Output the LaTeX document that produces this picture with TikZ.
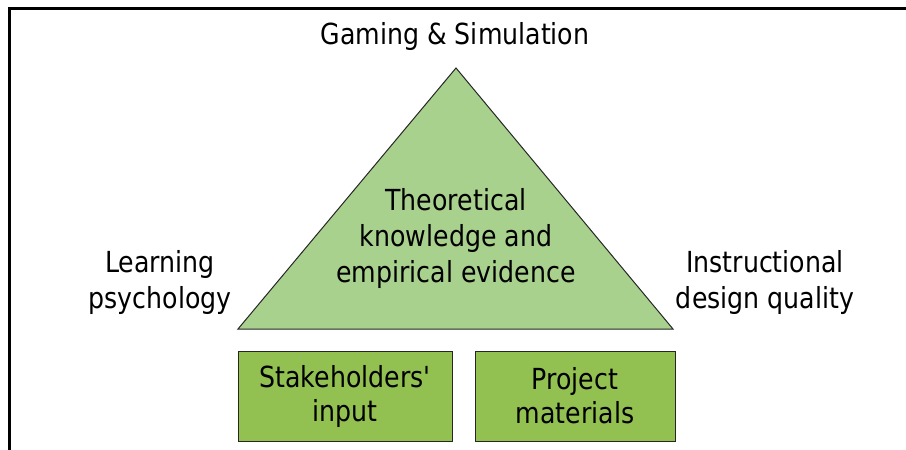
\documentclass[tikz,border=0pt]{standalone}
\usepackage{fontspec}
\setmainfont{DejaVu Sans}[FakeStretch=0.87,Ligatures=TeXOff]
\definecolor{trifill}{HTML}{A9D18E}
\definecolor{boxfill}{HTML}{92C152}
\definecolor{edge}{HTML}{262626}
\begin{document}
\begin{tikzpicture}[x=1pt,y=-1pt,
  lbl/.style={align=center,font=\fontsize{29}{36}\selectfont,inner sep=0pt},
  greenbox/.style={draw=edge,line width=1pt,fill=boxfill,minimum width=214pt,minimum height=90pt,inner sep=0pt,align=center,font=\fontsize{29}{34}\selectfont},
  frame/.style={line width=3pt,black}]
\useasboundingbox (0,0) rectangle (906,450);
\coordinate (ftl) at (9.5,8);
\coordinate (ftr) at (906,8);
\coordinate (fbl) at (9.5,450);
\draw[frame] (fbl) -- (ftl) -- (ftr);
\coordinate (apex) at (456,68);
\coordinate (bl) at (238,329);
\coordinate (br) at (673,329);
\draw[draw=edge,line width=1pt,fill=trifill,line join=miter] (apex) -- (br) -- (bl) -- cycle;
\node[lbl] (theory) at (456,238) {Theoretical\\knowledge and\\empirical evidence};
\node[lbl] (gaming) at (455,36) {Gaming \& Simulation};
\node[lbl] (learning) at (160,282) {Learning\\psychology};
\node[lbl] (instr) at (765,282) {Instructional\\design quality};
\node[greenbox] (stake) at (345,396) {Stakeholders'\\input};
\node[greenbox,minimum width=200pt] (proj) at (575,396) {Project\\materials};
\end{tikzpicture}
\end{document}
